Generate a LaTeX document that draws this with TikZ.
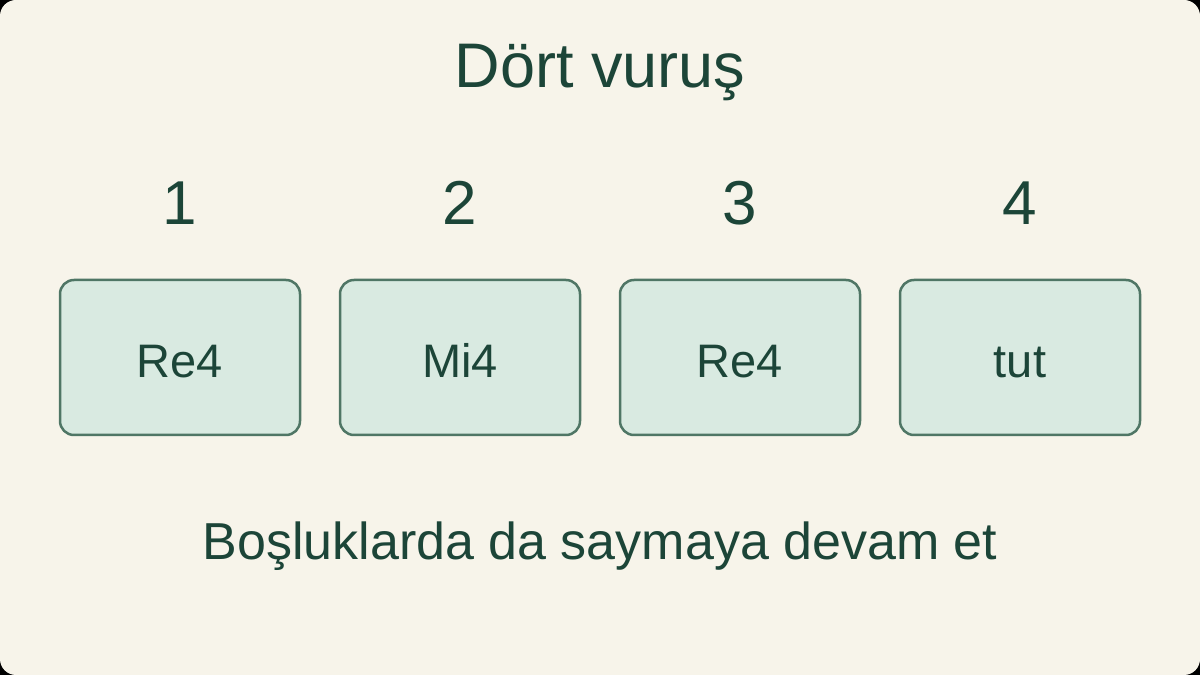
\documentclass[tikz,border=0pt]{standalone}
\usepackage{fontspec}
\setmainfont{Liberation Sans}
\usepackage{tikz}
\usetikzlibrary{positioning}

\definecolor{bgcream}{HTML}{F7F4EA}
\definecolor{inkgreen}{HTML}{1C4538}
\definecolor{beatfill}{HTML}{D9EAE1}
\definecolor{beatdraw}{HTML}{4F7665}

\tikzset{
	beat/.style={minimum height=155pt,minimum width=240pt,rounded corners=14pt,line width=2.5pt,draw=beatdraw,fill=beatfill,text=inkgreen,inner sep=0pt,outer sep=0pt,text height=41pt,text depth=0pt,font=\fontsize{47}{56}\selectfont},
	count/.style={above=55pt of #1,inner sep=0pt,text=inkgreen,font=\fontsize{62}{74}\selectfont},
}

\begin{document}
\begin{tikzpicture}[x=1pt,y=1pt]
		\fill[black] (0,0) rectangle (1200,675);
		\fill[bgcream,rounded corners=16pt] (0,0) rectangle (1200,675);
		\useasboundingbox (0,0) rectangle (1200,675);
		
		\node[anchor=base,inner sep=0pt,text=inkgreen,font=\fontsize{63}{76}\selectfont] (title) at (600,587) {Dört vuruş};
		
		\node[beat] (b1) at (180,317.5) {Re4};
		\node[beat,right=40pt of b1] (b2) {Mi4};
		\node[beat,right=40pt of b2] (b3) {Re4};
		\node[beat,right=40pt of b3] (b4) {tut};
		
		\node[count=b1] (n1) {1};
		\node[count=b2] (n2) {2};
		\node[count=b3] (n3) {3};
		\node[count=b4] (n4) {4};
		
		\node[anchor=base,inner sep=0pt,text=inkgreen,font=\fontsize{52}{62}\selectfont] (note) at (600,115) {Boşluklarda da saymaya devam et};
	\end{tikzpicture}
\end{document}
